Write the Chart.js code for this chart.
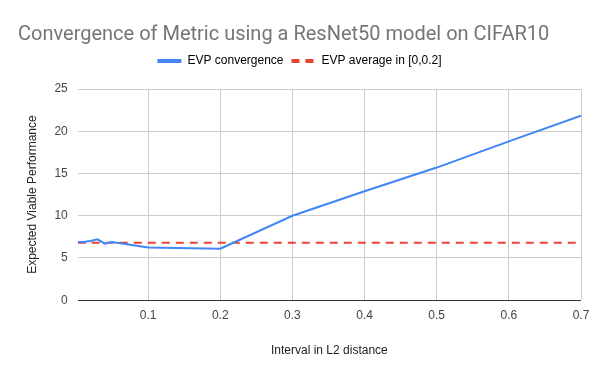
<!DOCTYPE html>
<html>
<head>
<meta charset="utf-8">
<script src="https://cdn.jsdelivr.net/npm/chart.js@4/dist/chart.umd.min.js"></script>
<style>
  html, body { margin: 0; padding: 0; background: #fff; }
  #wrap { width: 600px; height: 371px; }
</style>
</head>
<body>
<div id="wrap"><canvas id="evpChart" width="600" height="371"></canvas></div>
<script>
    // interval in L2 distance (x) and EVP values
    var intervals = [0.0025, 0.01, 0.02, 0.03, 0.04, 0.05, 0.1, 0.2, 0.3, 0.4, 0.5, 0.6, 0.7];
    var evpConvergence = [6.9, 6.9, 7.0, 7.2, 6.7, 6.9, 6.25, 6.1, 10.0, 12.9, 15.7, 18.8, 21.85];
    var evpAverage = 6.8;
    var xTicks = [0.1, 0.2, 0.3, 0.4, 0.5, 0.6, 0.7];

    var convergencePoints = [];
    intervals.forEach(function (x, i) {
        convergencePoints.push({x: x, y: evpConvergence[i]});
    });
    var averagePoints = [
        {x: intervals[0], y: evpAverage},
        {x: intervals[intervals.length - 1], y: evpAverage}
    ];

    var labelFont = {family: 'Arial, "Liberation Sans", sans-serif', size: 12};

    var ctx = document.getElementById('evpChart').getContext('2d');
    new Chart(ctx, {
        type: 'line',
        data: {
            datasets: [{
                label: 'EVP convergence',
                data: convergencePoints,
                borderColor: '#4285f4',
                backgroundColor: '#4285f4',
                borderWidth: 2,
                pointRadius: 0,
                tension: 0,
                order: 1
            }, {
                label: 'EVP average in [0,0.2]',
                data: averagePoints,
                borderColor: '#ea4335',
                backgroundColor: '#ea4335',
                borderWidth: 2,
                borderDash: [8, 6],
                pointRadius: 0,
                order: 2
            }]
        },
        options: {
            responsive: false,
            animation: false,
            layout: {
                padding: {left: 18, right: 19, top: 6, bottom: 9}
            },
            plugins: {
                title: {
                    display: true,
                    text: 'Convergence of Metric using a ResNet50 model on CIFAR10',
                    align: 'start',
                    color: '#757575',
                    font: {family: 'Roboto, Arial, sans-serif', size: 20, weight: 'normal'},
                    padding: {top: 17, bottom: 0}
                },
                legend: {
                    position: 'top',
                    labels: {
                        usePointStyle: true,
                        pointStyle: 'line',
                        pointStyleWidth: 24,
                        color: '#222',
                        font: labelFont,
                        padding: 8,
                        generateLabels: function (chart) {
                            return chart.data.datasets.map(function (ds, i) {
                                return {
                                    text: ds.label,
                                    strokeStyle: ds.borderColor,
                                    fillStyle: ds.borderColor,
                                    lineWidth: 4,
                                    lineDash: ds.borderDash || [],
                                    pointStyle: 'line',
                                    datasetIndex: i
                                };
                            });
                        }
                    }
                },
                tooltip: {enabled: false}
            },
            scales: {
                x: {
                    type: 'linear',
                    min: intervals[0],
                    max: 0.7,
                    afterBuildTicks: function (axis) {
                        axis.ticks = xTicks.map(function (v) { return {value: v}; });
                    },
                    ticks: {
                        color: '#444',
                        font: labelFont,
                        maxRotation: 0,
                        padding: 8,
                        callback: function (v) { return v.toFixed(1); }
                    },
                    grid: {color: '#ccc', drawTicks: false},
                    border: {display: false},
                    title: {
                        display: true,
                        text: 'Interval in L2 distance',
                        color: '#222',
                        font: labelFont,
                        padding: {top: 13}
                    }
                },
                y: {
                    min: 0,
                    max: 25,
                    ticks: {
                        stepSize: 5,
                        color: '#444',
                        font: labelFont,
                        padding: 10
                    },
                    grid: {
                        drawTicks: false,
                        color: function (c) { return c.tick.value === 0 ? '#333' : '#ccc'; }
                    },
                    border: {display: false},
                    title: {
                        display: true,
                        text: 'Expected Viable Performance',
                        color: '#222',
                        font: labelFont,
                        padding: {top: 7, bottom: 5}
                    }
                }
            }
        },
        plugins: [{
            id: 'legendGap',
            beforeInit: function (chart) {
                var fit = chart.legend.fit;
                chart.legend.fit = function () {
                    fit.bind(chart.legend)();
                    this.height += 12;
                };
            }
        }]
    });
</script>
</body>
</html>
